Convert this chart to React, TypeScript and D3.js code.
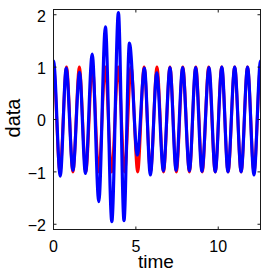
import React from "react";
import * as d3 from "d3";

// Extrema (time, value)
const redTimes = [0, 0.39, 0.79, 1.18, 1.57, 1.96, 2.36, 2.75, 3.14, 3.53, 3.93, 4.32, 4.71, 5.11, 5.5, 5.89, 6.28, 6.68, 7.07, 7.46, 7.85, 8.25, 8.64, 9.03, 9.42, 9.82, 10.21, 10.6, 11.0, 11.39, 11.78, 12.17, 12.57];
const redValues = [1, -1, 1, -1, 1, -1, 1, -1, 1, -1, 1, -1, 1, -1, 1, -1, 1, -1, 1, -1, 1, -1, 1, -1, 1, -1, 1, -1, 1, -1, 1, -1, 1];

const blueTimes = [0, 0.41, 0.77, 1.18, 1.58, 1.94, 2.35, 2.75, 3.15, 3.54, 3.94, 4.28, 4.61, 5.09, 5.52, 5.88, 6.27, 6.67, 7.07, 7.44, 7.84, 8.25, 8.63, 9.01, 9.44, 9.82, 10.22, 10.59, 11.0, 11.39, 11.78, 12.17, 12.57];
const blueValues = [1.12, -1.08, 0.98, -0.97, 0.9, -1.03, 1.25, -1.57, 1.77, -1.95, 2.04, -1.93, 1.46, -0.68, 0.98, -1.06, 0.89, -0.98, 0.99, -0.97, 0.99, -0.98, 0.99, -0.99, 0.99, -1.0, 1.0, -1.0, 1.0, -1.0, 1.0, -1.06, 1.12];

const xTicks = [0, 5, 10];
const yTicks = [-2, -1, 0, 1, 2];
const xDomain = [0, 4 * Math.PI];
const yDomain = [-2.1, 2.1];

// Curve with flat tangents at every extremum (cubic Hermite, zero slopes)
function flatCurve(context: any) {
  let x0 = NaN, y0 = NaN, started = false;
  return {
    areaStart() {},
    areaEnd() {},
    lineStart() { started = false; },
    lineEnd() {},
    point(x: number, y: number) {
      x = +x; y = +y;
      if (!started) { context.moveTo(x, y); started = true; }
      else {
        const dx = (x - x0) / 3;
        context.bezierCurveTo(x0 + dx, y0, x - dx, y, x, y);
      }
      x0 = x; y0 = y;
    },
  };
}

export default function App() {
  const W = 264, H = 276;
  const L = 53.5, R = 260.5, T = 9.5, B = 229.5;
  const x = d3.scaleLinear().domain(xDomain).range([L, R]);
  const y = d3.scaleLinear().domain(yDomain).range([B, T]);
  const line = d3.line<[number, number]>()
    .x((d) => x(d[0]))
    .y((d) => y(d[1]))
    .curve(flatCurve as any);
  const red = line(redTimes.map((t, i) => [t, redValues[i]]) as [number, number][]) || "";
  const blue = line(blueTimes.map((t, i) => [t, blueValues[i]]) as [number, number][]) || "";
  const font = "'Liberation Sans', Arial, Helvetica, sans-serif";
  const tl = 3;
  const ax = "#1a1a1a";
  return (
    <svg width={W} height={H} style={{ position: "absolute", left: 0, top: 0, background: "#fff" }}>
      <defs>
        <clipPath id="plot">
          <rect x={L} y={T} width={R - L} height={B - T} />
        </clipPath>
      </defs>
      <rect x={0} y={0} width={W} height={H} fill="#fff" />
      <g clipPath="url(#plot)">
        <path d={red} fill="none" stroke="#ff0000" strokeWidth={3} strokeLinejoin="round" />
        <path d={blue} fill="none" stroke="#0000ff" strokeWidth={3.2} strokeLinejoin="round" />
      </g>
      <rect x={L} y={T} width={R - L} height={B - T} fill="none" stroke={ax} strokeWidth={1} />
      {xTicks.map((t) => (
        <g key={"x" + t}>
          <line x1={x(t)} x2={x(t)} y1={B} y2={B - tl} stroke={ax} strokeWidth={1} />
          <line x1={x(t)} x2={x(t)} y1={T} y2={T + tl} stroke={ax} strokeWidth={1} />
          <text x={x(t)} y={251.5} textAnchor="middle" fontFamily={font} fontSize={16} fill="#000">{t}</text>
        </g>
      ))}
      {yTicks.map((t) => (
        <g key={"y" + t}>
          <line x1={L} x2={L + tl} y1={y(t)} y2={y(t)} stroke={ax} strokeWidth={1} />
          <line x1={R} x2={R - tl} y1={y(t)} y2={y(t)} stroke={ax} strokeWidth={1} />
          <text x={46} y={y(t) + 6.8} textAnchor="end" fontFamily={font} fontSize={16} fill="#000">{t < 0 ? "\u2212" + Math.abs(t) : t}</text>
        </g>
      ))}
      <text x={156} y={268} textAnchor="middle" fontFamily={font} fontSize={19} fill="#000">time</text>
      <text transform={`translate(20,118) rotate(-90)`} textAnchor="middle" fontFamily={font} fontSize={20} fill="#000">data</text>
    </svg>
  );
}
